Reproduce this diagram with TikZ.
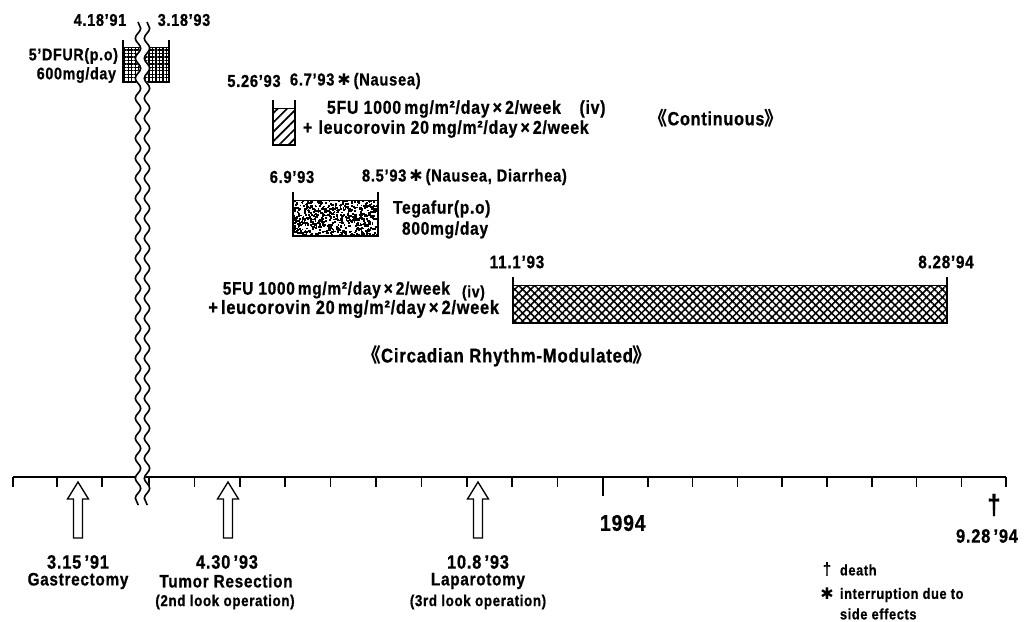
\documentclass[tikz,border=0pt]{standalone}
\usepackage{fontspec}
\setmainfont{Liberation Sans}[FakeStretch=0.85,LetterSpace=4,BoldFeatures={FakeBold=0.8}]
\newfontfamily\symf{DejaVu Sans}
\newfontfamily\cjkf{Noto Sans CJK JP}
\usetikzlibrary{patterns.meta,decorations.pathmorphing}
\newcommand\fsz[1]{\fontsize{#1}{#1}\selectfont\bfseries}
\newcommand\stmark{{\symf\fontsize{12}{12}\selectfont ✱}}
\begin{document}
\begin{tikzpicture}[x=0.75pt,y=-0.75pt,
  every node/.style={inner sep=0pt,outer sep=0pt,text=black},
  datelbl/.style={font=\fsz{12.8}},
  druglbl/.style={font=\fsz{14},anchor=west},
  opdate/.style={font=\fsz{14.5}},
  opname/.style={font=\fsz{13.5}},
  opnote/.style={font=\fsz{11.8}},
  yearlbl/.style={font=\fsz{17}},
  leglbl/.style={font=\fsz{11.3}},
  axisline/.style={line width=1.5pt},
  tickline/.style={line width=1.1pt},
  holarrow/.style={draw,line width=1pt,fill=white,line join=miter},
  bracket/.style={line width=1.1pt},
  wavy/.style={decorate,decoration={snake,amplitude=2pt,segment length=15pt}},
]
\useasboundingbox (0,0) rectangle (1026,622);

% ---------- time axis ----------
\coordinate (axL) at (13,477);
\coordinate (axR) at (1006,477);
\draw[axisline] (axL) -- (axR);
\foreach \x in {13,57,102} \draw[tickline] (\x,477) -- ++(0,10);
\foreach \k in {0,...,9} \draw[tickline] ({149+45.4*\k},477) -- ++(0,10);
\draw[tickline] (603,477) -- (603,496);
\foreach \k in {1,...,9} \draw[tickline] ({603+44.8*\k},477) -- ++(0,10);

% ---------- operation arrows ----------
\foreach \x in {78,228,478}
  \draw[holarrow] (\x,482) -- (\x+10.5,499) -- (\x+4.5,499) -- (\x+4.5,538)
     -- (\x-4.5,538) -- (\x-4.5,499) -- (\x-10.5,499) -- cycle;

\node[opdate] (d1) at (78,562) {3.15\,'91};
\node[opname] (n1) at (78,581) {Gastrectomy};
\node[opdate] (d2) at (227,562) {4.30\,'93};
\node[opname] (n2) at (226,581) {Tumor Resection};
\node[opnote] (o2) at (225,602) {(2nd look operation)};
\node[opdate] (d3) at (478,562) {10.8\,'93};
\node[opname] (n3) at (478,581) {Laparotomy};
\node[opnote] (o3) at (478,602) {(3rd look operation)};
\node[yearlbl,anchor=west] (yr) at (600,523) {1994};
\node[font=\fsz{21}] (dg) at (994,505) {†};
\node[opdate] (dd) at (987,536) {9.28\,'94};

% legend
\node[font=\fsz{13}] (l1s) at (827,569) {†};
\node[leglbl,anchor=west] (l1) at (840,570) {death};
\node (l2s) at (827,594) {\stmark};
\node[leglbl,anchor=west] (l2) at (840,595) {interruption due to};
\node[leglbl,anchor=west] (l3) at (840,614) {side effects};

% ---------- 5'DFUR ----------
\node[datelbl] (t1) at (100,20) {4.18'91};
\node[datelbl] (t2) at (184,20) {3.18'93};
\node[font=\fsz{12.6},anchor=east] (dfur1) at (118,56) {5'DFUR(p.o)};
\node[font=\fsz{12.6},anchor=east] (dfur2) at (116,75) {600mg/day};
\fill[pattern={Hatch[angle=0,distance=2.6pt,line width=1pt]}] (123,47) rectangle (169,82);
\draw[line width=0.6pt] (123,47) -- (169,47);
\draw[bracket] (123,40) -- (123,82) -- (169,82) -- (169,40);

% ---------- 5FU continuous ----------
\node[font=\fsz{13}] (c1) at (254,81) {5.26'93};
\node[druglbl,font=\fsz{13}] (c2) at (290,81) {6.7'93\,\stmark\,(Nausea)};
\fill[pattern={Lines[angle=45,distance=5pt,line width=1.3pt]}] (273,108) rectangle (295,145);
\draw[line width=0.6pt] (273,108) -- (295,108);
\draw[bracket] (273,100) -- (273,145) -- (295,145) -- (295,100);
\node[druglbl] (c3) at (327,109) {5FU 1000\,mg/m²/day\,×\,2/week\quad(iv)};
\node[druglbl] (c4) at (303,129) {+\,\,leucorovin 20\,mg/m²/day\,×\,2/week};
\node[font=\fsz{14.3}] (cont) at (716,118) {{\cjkf 《}Continuous{\cjkf 》}};

% ---------- Tegafur ----------
\node[font=\fsz{13}] (g1) at (292,177) {6.9'93};
\node[druglbl,font=\fsz{13}] (g2) at (362,177) {8.5'93\,\stmark\,(Nausea, Diarrhea)};
\begin{scope}
  \clip (293,200) rectangle (378,236);
  \pgfmathsetseed{11}
  \foreach \i in {1,...,650}
    \fill ({293+85*rnd},{200+36*rnd}) rectangle ++(1.8,1.8);
\end{scope}
\draw[line width=0.6pt] (293,200) -- (378,200);
\draw[bracket] (293,192) -- (293,236) -- (378,236) -- (378,192);
\node[font=\fsz{13.7},anchor=west] (g3) at (393,209) {Tegafur(p.o)};
\node[font=\fsz{13.7},anchor=west] (g4) at (402,230) {800mg/day};

% ---------- Circadian ----------
\node[font=\fsz{13.5}] (r1) at (517,262) {11.1'93};
\node[font=\fsz{13.5}] (r2) at (946,262) {8.28'94};
\fill[pattern={Hatch[angle=45,distance=4.2pt,line width=1.15pt]}] (513,285) rectangle (947,323);
\draw[line width=0.6pt] (513,285) -- (947,285);
\draw[bracket] (513,277) -- (513,323) -- (947,323) -- (947,277);
\node[font=\fsz{13.6},anchor=east] (r3) at (450,290) {5FU 1000\,mg/m²/day\,×\,2/week};
\node[font=\fsz{12.3},anchor=west] (r3b) at (462,293) {(iv)};
\node[font=\fsz{14.4},anchor=east] (r4) at (499,309) {+\,leucorovin 20\,mg/m²/day\,×\,2/week};
\node[font=\fsz{14.8}] (circ) at (507,356) {{\cjkf 《}Circadian Rhythm-Modulated{\cjkf 》}};

% ---------- axis break ----------
\draw[white,line width=6.8pt,wavy] (142.5,22) -- (142.5,505);
\draw[line width=1.2pt,wavy] (138,22) -- (138,505);
\draw[line width=1.2pt,wavy] (147,22) -- (147,505);
\end{tikzpicture}
\end{document}
